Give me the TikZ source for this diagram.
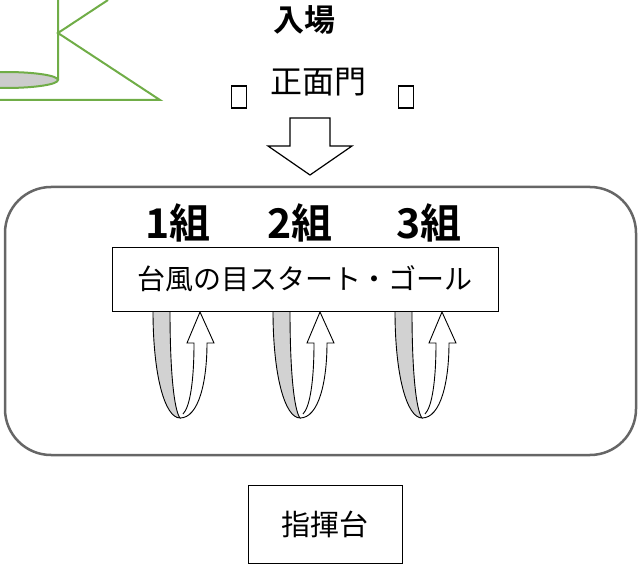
\documentclass[tikz,border=0pt]{standalone}
\usepackage{fontspec}
\setmainfont{Noto Sans CJK JP}[BoldFont={Noto Sans CJK JP Bold}]
\definecolor{leafgreen}{RGB}{112,173,71}
\tikzset{
  greenline/.style={draw=leafgreen,line width=2pt},
  tofu/.style={draw,line width=1.4pt,minimum width=15pt,minimum height=22pt,inner sep=0pt},
  labelbox/.style={draw,line width=0.8pt,inner sep=0pt},
  kumi/.style={font=\bfseries\fontsize{41}{41}\selectfont,inner sep=0pt}
}

\begin{document}
\begin{tikzpicture}[x=1pt,y=-1pt]
                \useasboundingbox (0,0) rectangle (638,567);
                % green corner
                \scope
                \clip (0,0) rectangle (638,567);
                \filldraw[greenline,fill=gray!40] (6,80) ellipse (52 and 8);
                \draw[greenline] (58,0) -- (58,80)
                      (108,0) -- (58,33) -- (160,100) -- (0,100);
                \endscope
                % gate
                \node[font=\bfseries\fontsize{31}{31}\selectfont,inner sep=0pt] (entry) at (304,20) {入場};
                \node[font=\fontsize{32}{32}\selectfont,inner sep=0pt] (gate) at (318,82) {正面門};
                \node[tofu] (tofuL) at (239,97) {};
                \node[tofu] (tofuR) at (406,97) {};
                \draw[line width=1.2pt,fill=white] (290,118) -- (330,118) -- (330,146) -- (352,146)
                      -- (310,175) -- (268,146) -- (290,146) -- cycle;
                % field
                \draw[gray!80!black,line width=2.5pt,rounded corners=46pt] (5,187) rectangle (636,455);
                \foreach \dx in {0,120,242} {
                \scope[xshift=153pt,yshift=-311pt,xshift=\dx pt]
                \filldraw[line width=0.9pt,fill=gray!35] (0,0) .. controls (0,65) and (12,107) .. (27,107)
                      .. controls (21,99) and (17,60) .. (17,0);
                \filldraw[line width=0.9pt,fill=white] (27,107) .. controls (46,107) and (54,70) .. (54,32)
                      -- (61,32) -- (47,1) -- (34,32) -- (41,32) .. controls (41,70) and (37,96) .. (30,103);
                \endscope
                }
                \node[kumi] (k1) at (178,223) {1組};
                \node[kumi] (k2) at (300,223) {2組};
                \node[kumi] (k3) at (429,223) {3組};
                \node[labelbox,fill=white,minimum width=386pt,minimum height=64pt,
                      font=\fontsize{28}{28}\selectfont] (eye) at (305,279) {台風の目スタート・ゴール};
                % podium
                \node[labelbox,minimum width=154pt,minimum height=78pt,
                      font=\fontsize{29}{29}\selectfont] (podium) at (325,524) {指揮台};
\end{tikzpicture}
\end{document}
